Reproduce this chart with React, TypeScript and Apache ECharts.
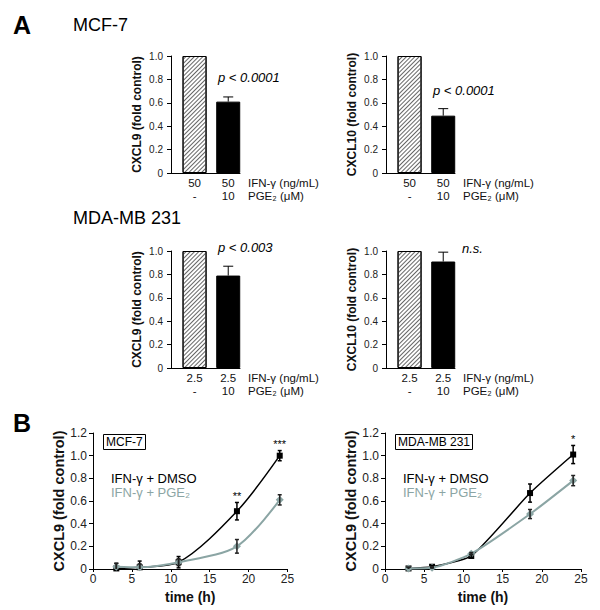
import React, { useEffect, useRef } from "react";
import * as echarts from "echarts";

// ---------- Panel A data ----------
const ifnMCF = ["50", "50"];
const ifnMDA = ["2.5", "2.5"];
const pgeDose = ["-", "10"];
const cxcl9MCF = [1.0, 0.61];
const cxcl9MCFErr = [0, 0.04];
const cxcl10MCF = [1.0, 0.49];
const cxcl10MCFErr = [0, 0.06];
const cxcl9MDA = [1.0, 0.79];
const cxcl9MDAErr = [0, 0.08];
const cxcl10MDA = [1.0, 0.91];
const cxcl10MDAErr = [0, 0.08];
const pLabels = ["p < 0.0001", "p < 0.0001", "p < 0.003", "n.s."];

// ---------- Panel B data ----------
const timePoints = [3, 6, 11, 18.5, 24];
const mcfDMSO = [0.005, 0.015, 0.06, 0.51, 1.0];
const mcfDMSOErr = [0.045, 0.055, 0.05, 0.077, 0.045];
const mcfPGE = [0.02, 0.015, 0.06, 0.2, 0.61];
const mcfPGEErr = [0.03, 0.03, 0.03, 0.06, 0.045];
const mcfSig = ["", "", "", "**", "***"];
const mdaDMSO = [0.005, 0.02, 0.115, 0.67, 1.01];
const mdaDMSOErr = [0.01, 0.01, 0.015, 0.08, 0.08];
const mdaPGE = [0.005, 0.01, 0.135, 0.485, 0.78];
const mdaPGEErr = [0.01, 0.01, 0.01, 0.04, 0.045];
const mdaSig = ["", "", "", "", "*"];
const yTicksA = { min: 0, max: 1, interval: 0.2 };
const yTicksB = { min: 0, max: 1.2, interval: 0.2 };
const xTicksB = { min: 0, max: 25, interval: 5 };

const FONT = "'Liberation Sans', Arial, Helvetica, sans-serif";
const GRAY = "#8ba5a4";
const DMSO_NAME = "IFN-γ + DMSO";
const PGE_NAME = "IFN-γ + PGE₂";

const fmtY = (v: number) => (v === 0 ? "0" : v.toFixed(1));

function errRenderer(both: boolean, color: string, capHalf: number, lw: number, sig?: string[]) {
  return (params: any, api: any) => {
    const x = api.value(0);
    const y = api.value(1);
    const e = api.value(2);
    if (!e) return { type: "group", children: [] };
    const top = api.coord([x, y + e]);
    const bot = api.coord([x, both ? Math.max(0, y - e) : y]);
    const style = { stroke: color, lineWidth: lw };
    const children: any[] = [
      { type: "line", shape: { x1: top[0], y1: top[1], x2: bot[0], y2: bot[1] }, style },
      { type: "line", shape: { x1: top[0] - capHalf, y1: top[1], x2: top[0] + capHalf, y2: top[1] }, style },
    ];
    if (both && y - e > 0) {
      children.push({ type: "line", shape: { x1: bot[0] - capHalf, y1: bot[1], x2: bot[0] + capHalf, y2: bot[1] }, style });
    }
    if (sig && sig[params.dataIndex]) {
      children.push({
        type: "text",
        style: {
          text: sig[params.dataIndex],
          x: top[0],
          y: top[1] - 1,
          align: "center",
          verticalAlign: "bottom",
          fontSize: 11,
          fontFamily: FONT,
          fill: "#000",
        },
      });
    }
    return { type: "group", children };
  };
}

const gridsA = [
  { left: 171, top: 56, width: 69, height: 117 },
  { left: 386, top: 56, width: 69, height: 117 },
  { left: 171, top: 251, width: 69, height: 117 },
  { left: 386, top: 251, width: 69, height: 117 },
];
const gridsB = [
  { left: 93, top: 433, width: 194.5, height: 136 },
  { left: 385, top: 433, width: 196, height: 136 },
];

const barPanels = [
  { vals: cxcl9MCF, err: cxcl9MCFErr, ifn: ifnMCF, yName: "CXCL9 (fold control)" },
  { vals: cxcl10MCF, err: cxcl10MCFErr, ifn: ifnMCF, yName: "CXCL10 (fold control)" },
  { vals: cxcl9MDA, err: cxcl9MDAErr, ifn: ifnMDA, yName: "CXCL9 (fold control)" },
  { vals: cxcl10MDA, err: cxcl10MDAErr, ifn: ifnMDA, yName: "CXCL10 (fold control)" },
];
const pPos = [
  [218, 77],
  [433, 90],
  [218, 247],
  [462, 248],
];

const linePanels = [
  { dmso: mcfDMSO, dmsoErr: mcfDMSOErr, pge: mcfPGE, pgeErr: mcfPGEErr, sig: mcfSig, box: "MCF-7", smooth: 0.3 },
  { dmso: mdaDMSO, dmsoErr: mdaDMSOErr, pge: mdaPGE, pgeErr: mdaPGEErr, sig: mdaSig, box: "MDA-MB 231", smooth: 0.2 },
];

const ROW_FS = 11.5;
const ROW_LH = 12.5;

function buildOption() {
  const xAxis: any[] = [];
  const yAxis: any[] = [];
  const series: any[] = [];

  barPanels.forEach((p, i) => {
    xAxis.push({
      gridIndex: i,
      type: "value",
      min: -0.7,
      max: 1.35,
      axisLine: { show: true, onZero: false, lineStyle: { color: "#000", width: 1 } },
      axisTick: { show: false },
      axisLabel: { show: false },
      splitLine: { show: false },
      name: "IFN-γ (ng/mL)\nPGE₂ (μM)",
      nameLocation: "end",
      nameGap: 8,
      nameTextStyle: {
        fontSize: ROW_FS,
        fontFamily: FONT,
        color: "#111",
        align: "left",
        verticalAlign: "top",
        lineHeight: ROW_LH,
        padding: [4, 0, 0, 0],
      },
    });
    yAxis.push({
      gridIndex: i,
      type: "value",
      ...yTicksA,
      axisLine: { show: true, onZero: false, lineStyle: { color: "#000", width: 1 } },
      axisTick: { show: true, length: 4, lineStyle: { color: "#000" } },
      axisLabel: { fontSize: 10, margin: 8, color: "#222", fontFamily: FONT, formatter: fmtY },
      splitLine: { show: false },
      name: p.yName,
      nameLocation: "middle",
      nameGap: 28,
      nameTextStyle: { fontSize: 12, fontWeight: "bold", color: "#111", fontFamily: FONT },
    });
    series.push({
      type: "bar",
      xAxisIndex: i,
      yAxisIndex: i,
      barWidth: 24,
      data: p.vals.map((v, j) => ({
        value: [j, v],
        itemStyle:
          j === 0
            ? {
                color: "#ffffff",
                borderColor: "#000",
                borderWidth: 1,
                decal: {
                  symbol: "rect",
                  symbolSize: 1,
                  dashArrayX: [1, 0],
                  dashArrayY: [1, 2],
                  rotation: -Math.PI / 4,
                  color: "#666",
                },
              }
            : { color: "#000", borderColor: "#000", borderWidth: 1 },
      })),
      label: {
        show: true,
        position: "bottom",
        distance: 4,
        fontSize: ROW_FS,
        lineHeight: ROW_LH,
        color: "#111",
        fontFamily: FONT,
        formatter: (pr: any) => `${p.ifn[pr.dataIndex]}\n${pgeDose[pr.dataIndex]}`,
      },
    });
    series.push({
      type: "custom",
      xAxisIndex: i,
      yAxisIndex: i,
      z: 5,
      renderItem: errRenderer(false, "#000", 5, 1),
      encode: { x: 0, y: 1 },
      data: p.vals.map((v, j) => [j, v, p.err[j]]),
    });
  });

  linePanels.forEach((p, k) => {
    const gi = 4 + k;
    xAxis.push({
      gridIndex: gi,
      type: "value",
      ...xTicksB,
      axisLine: { show: true, onZero: false, lineStyle: { color: "#000", width: 1 } },
      axisTick: { show: true, length: 3, lineStyle: { color: "#000" } },
      axisLabel: { fontSize: 12, margin: 4, color: "#222", fontFamily: FONT },
      splitLine: { show: false },
      name: "time (h)",
      nameLocation: "middle",
      nameGap: 21,
      nameTextStyle: { fontSize: 14, fontWeight: "bold", color: "#111", fontFamily: FONT },
    });
    yAxis.push({
      gridIndex: gi,
      type: "value",
      ...yTicksB,
      axisLine: { show: true, onZero: false, lineStyle: { color: "#000", width: 1 } },
      axisTick: { show: true, length: 4, lineStyle: { color: "#000" } },
      axisLabel: { fontSize: 12, margin: 6, color: "#222", fontFamily: FONT, formatter: fmtY },
      splitLine: { show: false },
      name: "CXCL9 (fold control)",
      nameLocation: "middle",
      nameGap: 25,
      nameTextStyle: { fontSize: 14.5, fontWeight: "bold", color: "#111", fontFamily: FONT },
    });
    series.push({
      name: DMSO_NAME,
      type: "line",
      xAxisIndex: gi,
      yAxisIndex: gi,
      smooth: p.smooth,
      symbol: "rect",
      symbolSize: 6,
      itemStyle: { color: "#000" },
      lineStyle: { color: "#000", width: 1.5 },
      data: timePoints.map((t, j) => [t, p.dmso[j]]),
      z: 3,
    });
    series.push({
      name: PGE_NAME,
      type: "line",
      xAxisIndex: gi,
      yAxisIndex: gi,
      smooth: p.smooth,
      symbol: "diamond",
      symbolSize: 8,
      itemStyle: { color: GRAY },
      lineStyle: { color: GRAY, width: 2 },
      data: timePoints.map((t, j) => [t, p.pge[j]]),
      z: 4,
    });
    series.push({
      type: "custom",
      xAxisIndex: gi,
      yAxisIndex: gi,
      z: 5,
      renderItem: errRenderer(true, "#000", 2, 1.5, p.sig),
      encode: { x: 0, y: 1 },
      data: timePoints.map((t, j) => [t, p.dmso[j], p.dmsoErr[j]]),
    });
    series.push({
      type: "custom",
      xAxisIndex: gi,
      yAxisIndex: gi,
      z: 6,
      renderItem: errRenderer(true, "#222", 2, 1.5),
      encode: { x: 0, y: 1 },
      data: timePoints.map((t, j) => [t, p.pge[j], p.pgeErr[j]]),
    });
  });

  const legendBase = {
    orient: "vertical",
    icon: "none",
    itemWidth: 0,
    itemHeight: 14,
    itemGap: 0,
    padding: 0,
    selectedMode: false,
    textStyle: { fontSize: 13, fontFamily: FONT, lineHeight: 14 },
    data: [
      { name: DMSO_NAME, textStyle: { color: "#000" } },
      { name: PGE_NAME, textStyle: { color: GRAY } },
    ],
  };

  const graphic: any[] = [
    { type: "text", x: 13, y: 25, style: { text: "A", fontSize: 25, fontWeight: "bold", fontFamily: FONT, fill: "#000", verticalAlign: "middle" } },
    { type: "text", x: 13, y: 423, style: { text: "B", fontSize: 25, fontWeight: "bold", fontFamily: FONT, fill: "#000", verticalAlign: "middle" } },
    { type: "text", x: 73, y: 25, style: { text: "MCF-7", fontSize: 18, fontFamily: FONT, fill: "#000", verticalAlign: "middle" } },
    { type: "text", x: 73, y: 218, style: { text: "MDA-MB 231", fontSize: 18, fontFamily: FONT, fill: "#000", verticalAlign: "middle" } },
  ];
  pLabels.forEach((t, i) => {
    graphic.push({
      type: "text",
      x: pPos[i][0],
      y: pPos[i][1],
      style: { text: t, fontSize: 13, fontStyle: "italic", fontFamily: FONT, fill: "#000", verticalAlign: "middle" },
    });
  });

  return {
    animation: false,
    backgroundColor: "#ffffff",
    textStyle: { fontFamily: FONT },
    title: [
      {
        text: linePanels[0].box,
        left: 103,
        top: 434,
        padding: [1, 3],
        borderColor: "#000",
        borderWidth: 1,
        textStyle: { fontSize: 12, fontWeight: "normal", color: "#000", fontFamily: FONT, lineHeight: 14 },
      },
      {
        text: linePanels[1].box,
        left: 395,
        top: 434,
        padding: [1, 3],
        borderColor: "#000",
        borderWidth: 1,
        textStyle: { fontSize: 12, fontWeight: "normal", color: "#000", fontFamily: FONT, lineHeight: 14 },
      },
    ],
    legend: [
      { ...legendBase, left: 106, top: 471 },
      { ...legendBase, left: 398, top: 471 },
    ],
    grid: [...gridsA, ...gridsB],
    xAxis,
    yAxis,
    series,
    graphic,
  };
}

export default function App() {
  const ref = useRef<HTMLDivElement>(null);
  useEffect(() => {
    if (!ref.current) return;
    const chart = echarts.init(ref.current, undefined, { renderer: "svg" });
    chart.setOption(buildOption() as any);
    return () => chart.dispose();
  }, []);
  return (
    <div
      ref={ref}
      style={{ position: "absolute", left: 0, top: 0, width: 600, height: 610, background: "#fff" }}
    />
  );
}
